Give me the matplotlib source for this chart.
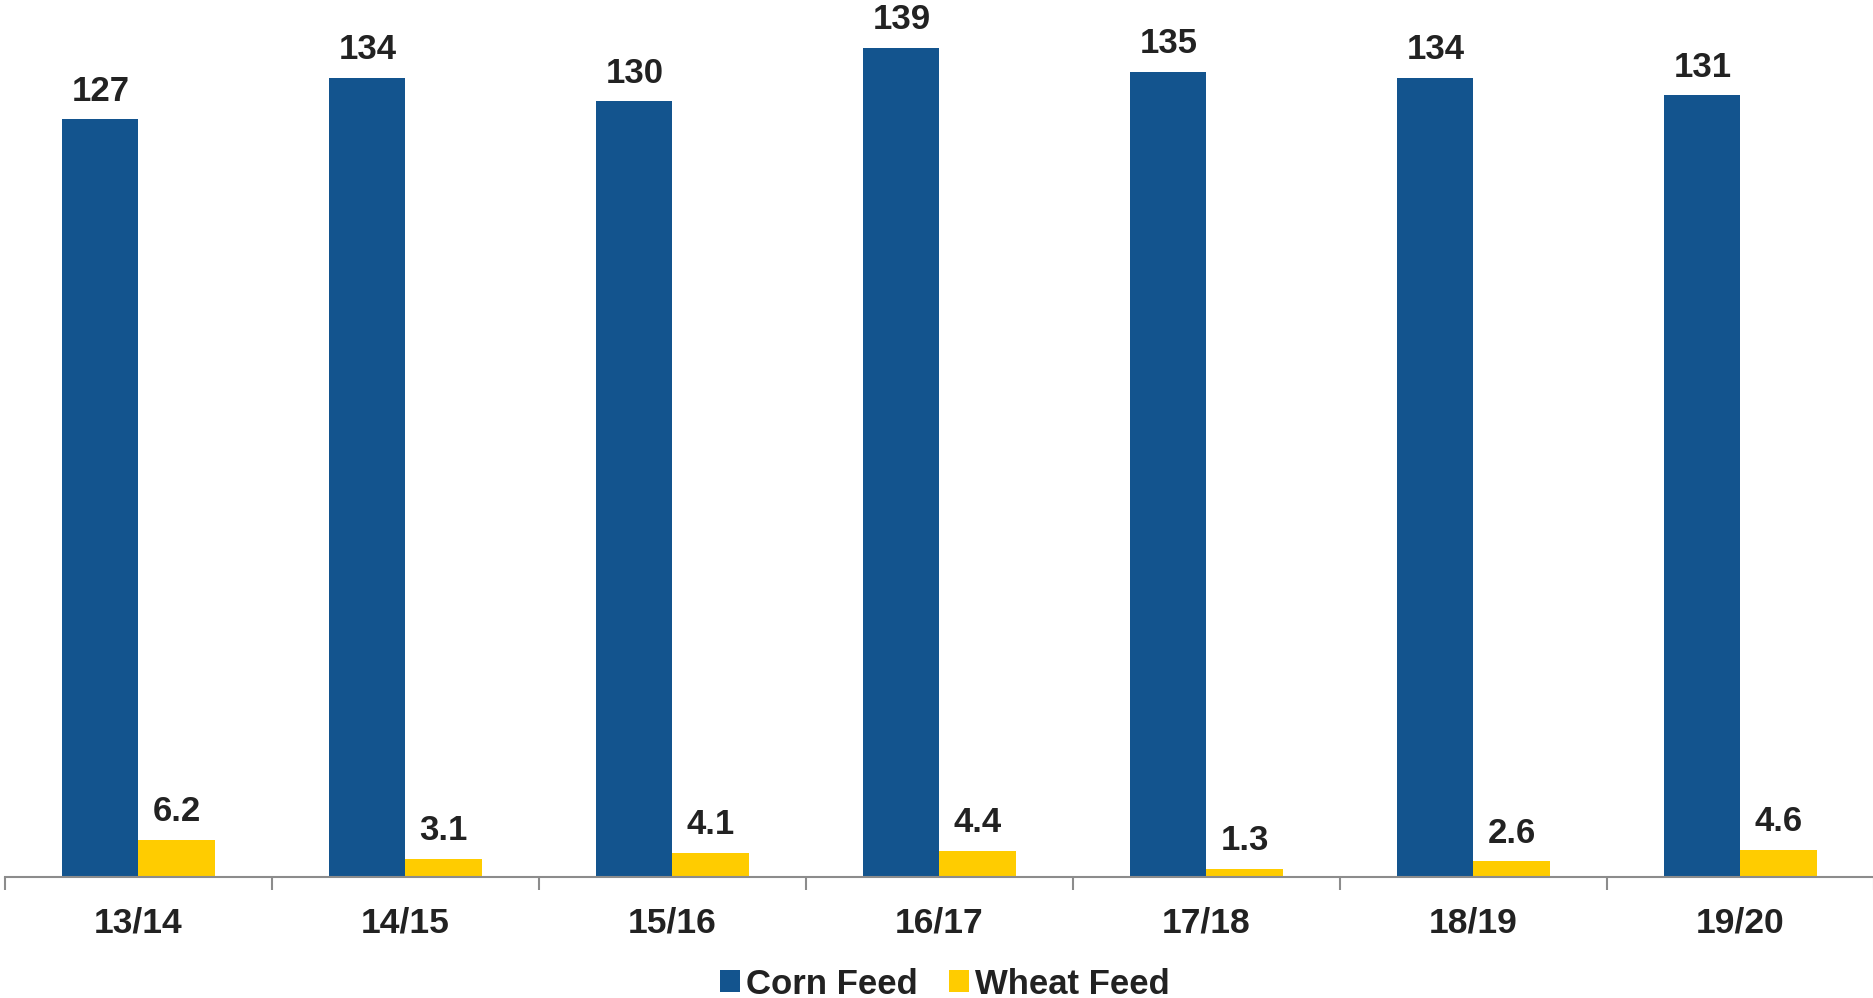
import matplotlib
matplotlib.use("Agg")
import matplotlib.pyplot as plt
import numpy as np
from matplotlib.patches import Patch

plt.rcParams['font.family'] = ['Liberation Sans', 'DejaVu Sans']

seasons = ["13/14", "14/15", "15/16", "16/17", "17/18", "18/19", "19/20"]
corn_feed = [127, 134, 130, 139, 135, 134, 131]
wheat_feed = [6.2, 3.1, 4.1, 4.4, 1.3, 2.6, 4.6]
corn_labels = ["127", "134", "130", "139", "135", "134", "131"]
wheat_labels = ["6.2", "3.1", "4.1", "4.4", "1.3", "2.6", "4.6"]

CORN = "#13548e"
WHEAT = "#ffcc00"
TEXT = "#222222"

fig = plt.figure(figsize=(18.74, 9.98), dpi=100)
ax = fig.add_axes([5 / 1874, 1 - 877 / 998, 1869 / 1874, 877 / 998])

x = np.arange(len(seasons))
w = 0.285
b1 = ax.bar(x - w / 2, corn_feed, width=w, color=CORN, zorder=2)
b2 = ax.bar(x + w / 2, wheat_feed, width=w, color=WHEAT, zorder=2)

for bars, labels in ((b1, corn_labels), (b2, wheat_labels)):
    for rect, lab in zip(bars, labels):
        ax.annotate(lab, (rect.get_x() + rect.get_width() / 2, rect.get_height()),
                    xytext=(0, 13.5), textcoords="offset points",
                    ha="center", va="baseline", fontsize=25,
                    fontweight="bold", color=TEXT)

ax.set_xlim(-0.5, len(seasons) - 0.5)
ax.set_ylim(0, 147)
ax.set_yticks([])
for s in ("top", "right", "left"):
    ax.spines[s].set_visible(False)
ax.spines["bottom"].set_color("#8c8c8c")
ax.spines["bottom"].set_linewidth(1.5)

ax.set_xticks(np.arange(-0.5, len(seasons) + 0.5, 1.0), minor=False)
ax.set_xticklabels([])
ax.tick_params(axis="x", which="major", length=9, width=1.5, color="#8c8c8c")
ax.set_xticks(x, minor=True)
ax.set_xticklabels(seasons, minor=True, fontsize=25.5, fontweight="bold", color=TEXT)
ax.tick_params(axis="x", which="minor", length=0, pad=21)

handles = [Patch(facecolor=CORN, label="Corn Feed"), Patch(facecolor=WHEAT, label="Wheat Feed")]
fig.legend(handles=handles, loc="center", bbox_to_anchor=(0.504, 0.014),
           ncol=2, frameon=False, prop={"size": 25, "weight": "bold"},
           handlelength=0.6, handleheight=0.6, handletextpad=0.15,
           columnspacing=0.9, labelcolor=TEXT)

fig.savefig("out.png", dpi=100)
